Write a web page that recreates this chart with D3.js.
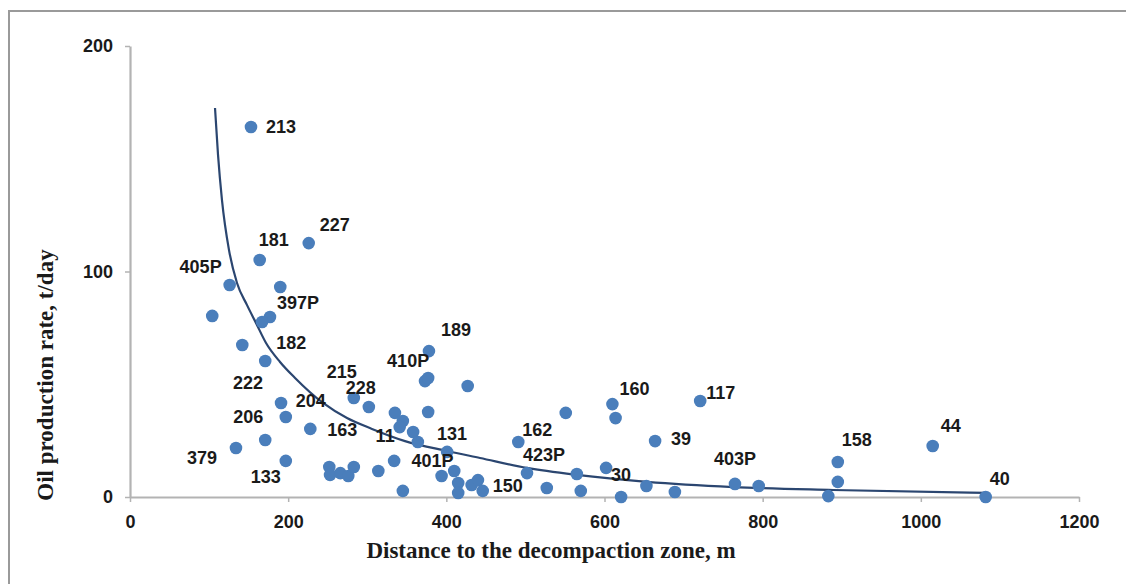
<!DOCTYPE html>
<html>
<head>
<meta charset="utf-8">
<script src="https://cdn.jsdelivr.net/npm/d3@7"></script>
<style>
  html, body { margin: 0; padding: 0; background: #fff; }
  svg { display: block; }
</style>
</head>
<body>
<svg id="chart" width="1126" height="584"></svg>
<script>
// ---- data ----
const distance = [153, 226, 164, 126, 190, 104, 177, 167, 142, 171, 191, 197, 228, 171, 134, 197,
  252, 253, 266, 276, 283, 283, 302, 335, 345, 341, 358, 364, 334, 314, 345, 377, 373, 377, 378, 427,
  401, 394, 410, 415, 415, 432, 440, 446, 491, 551, 502, 527, 565, 570, 602, 621, 653, 689, 610, 614,
  664, 721, 765, 795, 883, 895, 895, 1015, 1082];
const rate = [164.1, 112.6, 105.1, 94.0, 93.1, 80.3, 79.8, 77.6, 67.4, 60.3, 41.7, 35.5, 30.2, 25.3, 21.7, 16.0,
  13.3, 9.8, 10.6, 9.3, 13.3, 43.9, 39.9, 37.3, 33.7, 31.0, 28.8, 24.4, 16.0, 11.5, 2.7, 37.7, 51.4, 52.8, 64.7, 49.2,
  20.0, 9.3, 11.5, 6.2, 1.8, 5.3, 7.5, 2.7, 24.4, 37.3, 10.6, 4.0, 10.2, 2.7, 12.9, 0.0, 4.9, 2.2, 41.2, 35.0,
  24.8, 42.6, 5.8, 4.9, 0.4, 15.5, 6.7, 22.6, 0.0];
const wellLabel = ["213", "227", "181", "405P", "", "", "397P", "", "", "182", "222", "204", "163", "206", "379", "133",
  "", "", "", "", "", "215", "228", "", "", "", "", "", "11", "", "", "", "", "410P", "189", "",
  "131", "401P", "", "", "", "", "", "150", "162", "", "423P", "", "", "", "30", "", "", "", "160", "",
  "39", "117", "403P", "", "", "158", "", "44", "40"];

// trend line
const trendX = [107.5, 111.3, 116.3, 125.2, 135.3, 148.0, 159.3, 172.0, 189.7, 208.7, 244.1, 274.4, 306.0,
  347.8, 400.9, 442.6, 502.1, 565.3, 653.8, 762.6, 889.0, 1082.5];
const trendY = [172.5, 151.7, 131.7, 109.5, 94.9, 85.1, 77.2, 68.3, 59.9, 52.8, 41.7, 35.0, 30.2,
  24.8, 20.4, 17.3, 12.9, 9.8, 6.7, 4.4, 3.1, 1.8];

const xTicks = [0, 200, 400, 600, 800, 1000, 1200];
const yTicks = [0, 100, 200];
const xTitle = "Distance to the decompaction zone, m";
const yTitle = "Oil production rate, t/day";

// ---- label placement (pixels, relative to point) ----
const labelOffsets = {
  "213": [15, 6, "start"], "227": [11, -12, "start"], "181": [-1, -14, "start"],
  "405P": [-8, -12, "end"], "397P": [7, -8, "start"], "182": [11, -12, "start"],
  "222": [-18, -14, "end"], "204": [10, -10, "start"], "163": [17, 7, "start"],
  "206": [-2, -17, "end"], "379": [-19, 16, "end"], "133": [-5, 22, "end"],
  "215": [-12, -20, "middle"], "228": [-8, -13, "middle"], "11": [-9, -19, "middle"],
  "410P": [-20, -11, "middle"], "189": [12, -15, "start"], "131": [5, -12, "middle"],
  "401P": [-9, -9, "middle"], "150": [10, 1, "start"], "162": [4, -6, "start"],
  "423P": [-4, -12, "start"], "30": [5, 13, "start"], "160": [7, -9, "start"],
  "39": [16, 4, "start"], "117": [6, -2, "start"], "403P": [0, -19, "middle"],
  "158": [4, -16, "start"], "44": [8, -14, "start"], "40": [4, -12, "start"]
};

const svg = d3.select("#chart");

// outer frame (left & top visible)
svg.append("path")
  .attr("d", "M9,584 L9,11 L1126,11")
  .attr("fill", "none")
  .attr("stroke", "#9a9a9a")
  .attr("stroke-width", 2);

const x = d3.scaleLinear().domain([0, 1200]).range([130, 1079]);
const y = d3.scaleLinear().domain([0, 200]).range([497, 46]);

const tickFont = "Liberation Sans, Arial, sans-serif";
const fmt = d3.format("d");

// x axis
const gx = svg.append("g")
  .attr("transform", `translate(0,${y(0)})`)
  .call(d3.axisBottom(x).tickValues(xTicks).tickFormat(fmt).tickSize(5).tickPadding(13).tickSizeOuter(0));
// y axis
const gy = svg.append("g")
  .attr("transform", `translate(${x(0)},0)`)
  .call(d3.axisLeft(y).tickValues(yTicks).tickFormat(fmt).tickSize(5).tickPadding(12).tickSizeOuter(0));

[gx, gy].forEach(g => {
  g.select(".domain").attr("stroke", "#b3b3b3").attr("stroke-width", 2.2);
  g.selectAll(".tick line").attr("stroke", "#b3b3b3").attr("stroke-width", 1.5);
  g.selectAll(".tick text")
    .attr("font-family", tickFont)
    .attr("font-size", 18)
    .attr("font-weight", "bold")
    .attr("fill", "#1a1a1a");
});

// trend line
const trend = trendX.map((v, i) => [v, trendY[i]]);
svg.append("path")
  .datum(trend)
  .attr("fill", "none")
  .attr("stroke", "#2b4670")
  .attr("stroke-width", 2.2)
  .attr("d", d3.line().x(d => x(d[0])).y(d => y(d[1])).curve(d3.curveMonotoneX));

// points
const pts = distance.map((d, i) => ({ x: d, y: rate[i], label: wellLabel[i] }));
svg.append("g").selectAll("circle")
  .data(pts)
  .join("circle")
  .attr("cx", d => x(d.x))
  .attr("cy", d => y(d.y))
  .attr("r", 6.3)
  .attr("fill", "#4a7ebb");

// labels
svg.append("g").selectAll("text")
  .data(pts.filter(d => d.label))
  .join("text")
  .attr("x", d => x(d.x) + labelOffsets[d.label][0])
  .attr("y", d => y(d.y) + labelOffsets[d.label][1])
  .attr("text-anchor", d => labelOffsets[d.label][2])
  .attr("font-family", tickFont)
  .attr("font-size", 18)
  .attr("font-weight", "bold")
  .attr("fill", "#1a1a1a")
  .text(d => d.label);

// axis titles
svg.append("text")
  .attr("x", 551)
  .attr("y", 558)
  .attr("text-anchor", "middle")
  .attr("font-family", "Liberation Serif, Times New Roman, serif")
  .attr("font-size", 23)
  .attr("font-weight", "bold")
  .attr("fill", "#1a1a1a")
  .text(xTitle);

svg.append("text")
  .attr("transform", "translate(53,375) rotate(-90)")
  .attr("text-anchor", "middle")
  .attr("font-family", "Liberation Serif, Times New Roman, serif")
  .attr("font-size", 23)
  .attr("font-weight", "bold")
  .attr("fill", "#1a1a1a")
  .text(yTitle);
</script>
</body>
</html>
